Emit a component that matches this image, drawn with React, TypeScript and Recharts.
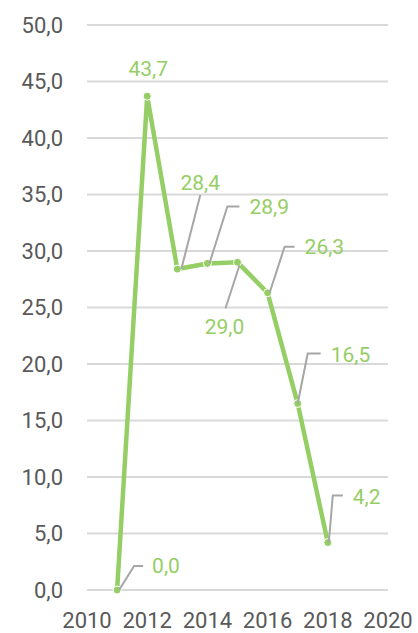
import { LineChart, Line, XAxis, YAxis, CartesianGrid, LabelList } from 'recharts'

const years = [2011, 2012, 2013, 2014, 2015, 2016, 2017, 2018]
const values = [0.0, 43.7, 28.4, 28.9, 29.0, 26.3, 16.5, 4.2]
const xTicks = [2010, 2012, 2014, 2016, 2018, 2020]
const yTicks = [0, 5, 10, 15, 20, 25, 30, 35, 40, 45, 50]

const GREEN = '#95ce65'
const LEADER = '#a6a6a6'

const data = years.map((year, i) => ({ year, value: values[i] }))

const fmt = (v: number) => v.toFixed(1).replace('.', ',')

// label placement relative to the point: leader polyline + text anchor
const labelPos: { line?: [number, number][]; tx: number; ty: number; anchor: 'start' | 'middle' }[] = [
  { line: [[2, 0], [17, -24], [26, -24]], tx: 35, ty: -24, anchor: 'start' },
  { tx: 1, ty: -28, anchor: 'middle' },
  { line: [[4, 0], [23, -74]], tx: 23, ty: -87, anchor: 'middle' },
  { line: [[2, 0], [20, -57], [32, -57]], tx: 42, ty: -57, anchor: 'start' },
  { line: [[2, 3], [-12, 46]], tx: -13, ty: 64, anchor: 'middle' },
  { line: [[2, 0], [17, -46], [27, -46]], tx: 37, ty: -46, anchor: 'start' },
  { line: [[0, 0], [10, -50], [23, -50]], tx: 33, ty: -49, anchor: 'start' },
  { line: [[1, 0], [5, -47], [15, -47]], tx: 25, ty: -46, anchor: 'start' },
]

function PointLabel(props: any) {
  const { x, y, value, index } = props
  const p = labelPos[index]
  if (!p) return null
  return (
    <g>
      {p.line && (
        <polyline
          points={p.line.map(([dx, dy]) => `${x + dx},${y + dy}`).join(' ')}
          fill="none"
          stroke={LEADER}
          strokeWidth={2}
        />
      )}
      <text
        x={x + p.tx}
        y={y + p.ty}
        dy="0.355em"
        textAnchor={p.anchor}
        fill={GREEN}
        fontSize={21}
        fontFamily="Roboto"
      >
        {fmt(value)}
      </text>
    </g>
  )
}

export default function App() {
  return (
    <div>
      <style>{'body{margin:0}'}</style>
      <LineChart width={418} height={633} data={data} margin={{ top: 25, right: 30, left: 0, bottom: 0 }}>
        <CartesianGrid vertical={false} stroke="#d9d9d9" strokeWidth={2} />
        <XAxis
          dataKey="year"
          type="number"
          domain={[2010, 2020]}
          ticks={xTicks}
          axisLine={false}
          tickLine={false}
          tickSize={0}
          tickMargin={22}
          height={43}
          interval={0}
          tick={{ fill: '#595959', fontSize: 22, fontFamily: 'Roboto' }}
        />
        <YAxis
          domain={[0, 50]}
          ticks={yTicks}
          axisLine={false}
          tickLine={false}
          tickSize={0}
          tickMargin={24}
          width={87}
          interval={0}
          tickFormatter={fmt}
          tick={{ fill: '#595959', fontSize: 22, fontFamily: 'Roboto' }}
        />
        <Line
          dataKey="value"
          stroke={GREEN}
          strokeWidth={4.5}
          dot={{ r: 4, fill: GREEN, stroke: '#fff', strokeWidth: 1 }}
          isAnimationActive={false}
        >
          <LabelList dataKey="value" content={<PointLabel />} />
        </Line>
      </LineChart>
    </div>
  )
}
